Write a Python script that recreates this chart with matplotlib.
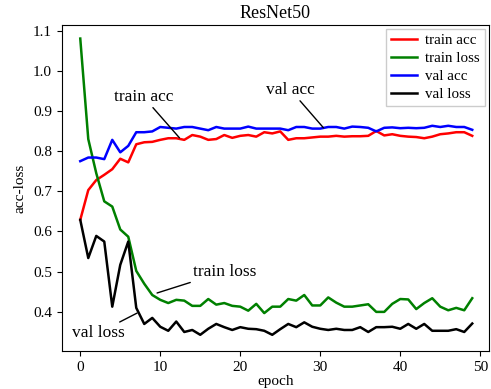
import matplotlib
matplotlib.use("Agg")
import matplotlib.pyplot as plt
import numpy as np

plt.rcParams['font.family'] = ['Liberation Serif', 'DejaVu Serif']

epochs = np.arange(50)

train_acc = [0.629, 0.703, 0.728, 0.741, 0.755, 0.781, 0.772, 0.817, 0.822, 0.823,
             0.828, 0.832, 0.832, 0.828, 0.840, 0.836, 0.828, 0.830, 0.840, 0.833,
             0.838, 0.840, 0.836, 0.847, 0.844, 0.849, 0.828, 0.832, 0.832, 0.834,
             0.836, 0.836, 0.838, 0.836, 0.837, 0.837, 0.838, 0.850, 0.839, 0.842,
             0.838, 0.836, 0.835, 0.832, 0.836, 0.842, 0.844, 0.847, 0.847, 0.838]
train_loss = [1.080, 0.830, 0.745, 0.675, 0.662, 0.605, 0.587, 0.502, 0.470, 0.442,
              0.430, 0.422, 0.430, 0.428, 0.415, 0.415, 0.432, 0.418, 0.422, 0.415,
              0.413, 0.403, 0.420, 0.397, 0.413, 0.413, 0.432, 0.428, 0.442, 0.416,
              0.416, 0.436, 0.423, 0.413, 0.413, 0.416, 0.419, 0.400, 0.400, 0.420,
              0.432, 0.431, 0.407, 0.422, 0.434, 0.413, 0.404, 0.410, 0.404, 0.434]
val_acc = [0.775, 0.784, 0.784, 0.780, 0.828, 0.797, 0.813, 0.847, 0.847, 0.849,
           0.860, 0.858, 0.856, 0.860, 0.860, 0.856, 0.852, 0.860, 0.856, 0.856,
           0.856, 0.861, 0.856, 0.856, 0.856, 0.856, 0.852, 0.860, 0.860, 0.856,
           0.856, 0.860, 0.860, 0.856, 0.861, 0.860, 0.858, 0.849, 0.858, 0.859,
           0.857, 0.858, 0.857, 0.858, 0.863, 0.860, 0.863, 0.860, 0.860, 0.853]
val_loss = [0.629, 0.534, 0.589, 0.575, 0.413, 0.517, 0.575, 0.410, 0.370, 0.385,
            0.363, 0.353, 0.376, 0.350, 0.355, 0.343, 0.358, 0.370, 0.362, 0.355,
            0.362, 0.358, 0.357, 0.353, 0.343, 0.357, 0.370, 0.362, 0.374, 0.363,
            0.358, 0.355, 0.358, 0.355, 0.355, 0.362, 0.350, 0.362, 0.362, 0.363,
            0.358, 0.370, 0.358, 0.370, 0.353, 0.353, 0.353, 0.357, 0.350, 0.371]

fig = plt.figure(figsize=(4.91, 3.89), dpi=100)
ax = fig.add_axes([0.126, 0.098, 0.870, 0.838])

ax.plot(epochs, train_acc, color='red', lw=1.8, label='train acc')
ax.plot(epochs, train_loss, color='green', lw=1.8, label='train loss')
ax.plot(epochs, val_acc, color='blue', lw=1.8, label='val acc')
ax.plot(epochs, val_loss, color='black', lw=1.8, label='val loss')

ax.set_xlim(-2.3, 51.1)
ax.set_ylim(0.303, 1.114)
ax.set_xticks([0, 10, 20, 30, 40, 50])
ax.set_yticks([0.4, 0.5, 0.6, 0.7, 0.8, 0.9, 1.0, 1.1])
ax.tick_params(labelsize=11)

ax.set_title('ResNet50', fontsize=13, pad=5)
ax.set_xlabel('epoch', fontsize=11, labelpad=1)
ax.set_ylabel('acc-loss', fontsize=11, labelpad=5)

# annotation lines from text to curve
arrow = dict(arrowstyle='-', color='black', lw=1.0, shrinkA=0, shrinkB=0)
ax.annotate('train acc', xy=(12.4, 0.833), xytext=(7.9, 0.935),
            fontsize=12.5, ha='center', va='center', arrowprops=arrow)
ax.annotate('val acc', xy=(30.4, 0.858), xytext=(26.3, 0.952),
            fontsize=12.5, ha='center', va='center', arrowprops=arrow)
ax.annotate('train loss', xy=(9.6, 0.447), xytext=(18.0, 0.50),
            fontsize=12.5, ha='center', va='center', arrowprops=arrow)
ax.annotate('val loss', xy=(7.1, 0.397), xytext=(2.3, 0.348),
            fontsize=12.5, ha='center', va='center', arrowprops=arrow)

ax.legend(loc='upper right', fontsize=10.8, handlelength=1.75, handletextpad=0.55,
          borderpad=0.3, borderaxespad=0.3, labelspacing=0.3,
          fancybox=False, framealpha=1)

fig.savefig('out.png', dpi=100)
